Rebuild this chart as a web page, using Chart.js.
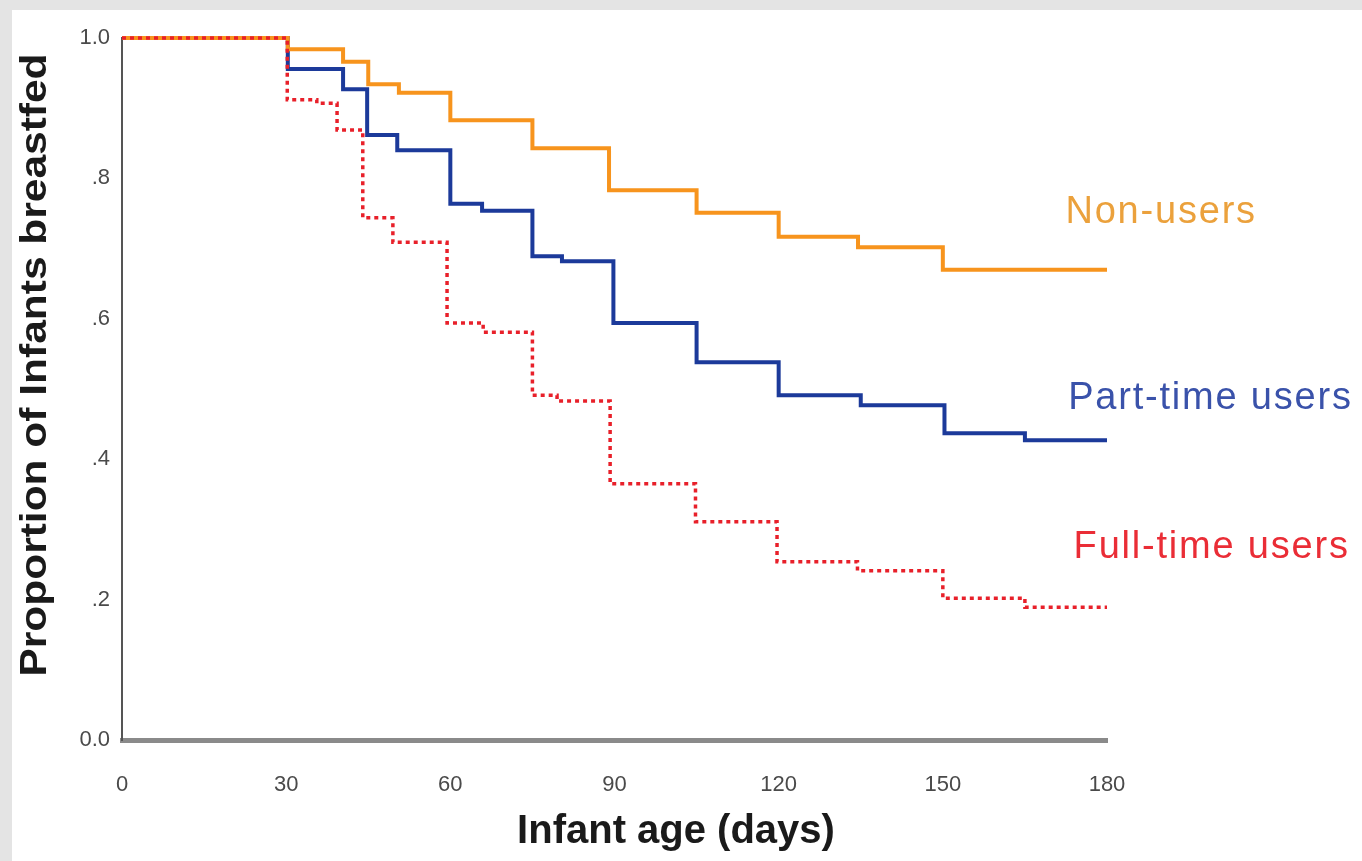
<!DOCTYPE html>
<html>
<head>
<meta charset="utf-8">
<script src="https://cdn.jsdelivr.net/npm/chart.js@4"></script>
<style>
  html, body { margin:0; padding:0; background:#e4e4e4; }
  #panel { position:absolute; left:12px; top:10px; width:1350px; height:851px; background:#fff; }
  #wrap { position:absolute; left:0; top:0; width:1362px; height:861px; }
</style>
</head>
<body>
<div id="panel"></div>
<div id="wrap"><canvas id="kmChart"></canvas></div>
<script>
// survival steps: day at which the proportion changes, and the new proportion
const nonDays  = [0, 30.3, 40.4, 45, 50.6, 60, 75, 89, 105, 120, 134.5, 150, 180];
const nonVals  = [1.0, 0.984, 0.966, 0.934, 0.922, 0.883, 0.843, 0.783, 0.751, 0.717, 0.702, 0.670, 0.670];

const partDays = [0, 30.3, 40.4, 44.8, 50.3, 60, 65.8, 75, 80.4, 89.8, 105, 120, 135, 150.3, 165, 180];
const partVals = [1.0, 0.956, 0.927, 0.862, 0.840, 0.764, 0.754, 0.689, 0.682, 0.594, 0.538, 0.491, 0.477, 0.437, 0.427, 0.427];

const fullDays = [0, 30.2, 35.6, 39.3, 44, 49.5, 59.4, 66, 75, 79.5, 89.2, 104.8, 119.7, 134.4, 150, 165, 180];
const fullVals = [1.0, 0.912, 0.907, 0.869, 0.744, 0.709, 0.594, 0.581, 0.491, 0.483, 0.365, 0.311, 0.254, 0.241, 0.202, 0.189, 0.189];

const seriesNames = ['Non-users', 'Part-time users', 'Full-time users'];
const xTicks = [0, 30, 60, 90, 120, 150, 180];
const yTicks = [0, 0.2, 0.4, 0.6, 0.8, 1.0];

const lineColors  = ['#f7941d', '#1c3a9a', '#e8202a'];
const labelColors = ['#eba13c', '#3a52aa', '#ea2d36'];
// where the curve names sit (in data units)
const labelAnchor = [[172.4, 0.751], [172.9, 0.486], [173.9, 0.274]];

function pts(days, vals) {
    return days.map(function(d, i){ return {x:d, y:vals[i]}; });
}

const FONT = '"Liberation Sans", Arial, Helvetica, sans-serif';

const textPlugin = {
    id:'kmText',
    afterDraw:function(chart){
        const ctx = chart.ctx;
        const xs = chart.scales.x, ys = chart.scales.y;
        ctx.save();
        // curve labels
        ctx.font = '38px ' + FONT;
        ctx.letterSpacing = '1.8px';
        ctx.textBaseline = 'middle';
        ctx.textAlign = 'left';
        seriesNames.forEach(function(name, i){
            ctx.fillStyle = labelColors[i];
            ctx.fillText(name, xs.getPixelForValue(labelAnchor[i][0]), ys.getPixelForValue(labelAnchor[i][1]));
        });
        ctx.letterSpacing = '0px';
        // axis titles
        ctx.fillStyle = '#1a1a1a';
        ctx.font = 'bold 40px ' + FONT;
        ctx.textAlign = 'center';
        ctx.fillText('Infant age (days)', 676, 832);
        ctx.translate(36, 365);
        ctx.rotate(-Math.PI/2);
        ctx.scale(1.18, 1);
        ctx.font = 'bold 36px ' + FONT;
        ctx.fillText('Proportion of Infants breastfed', 0, 0);
        ctx.restore();
    }
};

new Chart(document.getElementById('kmChart').getContext('2d'), {
    type:'line',
    data:{
        datasets:[
            {label:seriesNames[0], data:pts(nonDays, nonVals), stepped:'before', order:1, clip:false,
             borderColor:lineColors[0], borderWidth:4, pointRadius:0, fill:false},
            {label:seriesNames[1], data:pts(partDays, partVals), stepped:'before', order:2, clip:false,
             borderColor:lineColors[1], borderWidth:4, pointRadius:0, fill:false},
            {label:seriesNames[2], data:pts(fullDays, fullVals), stepped:'before', order:0, clip:false,
             borderColor:lineColors[2], borderWidth:3.5, borderDash:[4,4], pointRadius:0, fill:false}
        ]
    },
    options:{
        responsive:true,
        maintainAspectRatio:false,
        animation:false,
        layout:{padding:{left:0, top:38, right:255, bottom:0}},
        plugins:{legend:{display:false}, tooltip:{enabled:false}},
        scales:{
            x:{
                type:'linear', min:0, max:180,
                afterBuildTicks:function(s){ s.ticks = xTicks.map(function(v){return {value:v};}); },
                afterFit:function(s){ s.height = 121; },
                grid:{display:false, drawTicks:false},
                border:{display:true, color:'#8a8a8a', width:5},
                ticks:{padding:32, color:'#4a4a4a', font:{size:22, family:FONT}}
            },
            y:{
                type:'linear', min:0, max:1,
                afterBuildTicks:function(s){ s.ticks = yTicks.map(function(v){return {value:v};}); },
                afterFit:function(s){ s.width = 122; },
                grid:{display:false, drawTicks:false},
                border:{display:true, color:'#555', width:2},
                ticks:{padding:12, color:'#4a4a4a', font:{size:22, family:FONT},
                    callback:function(v){
                        if(v === 0) return '0.0';
                        if(v === 1) return '1.0';
                        return '.' + Math.round(v*10);
                    }}
            }
        }
    },
    plugins:[textPlugin]
});
</script>
</body>
</html>
